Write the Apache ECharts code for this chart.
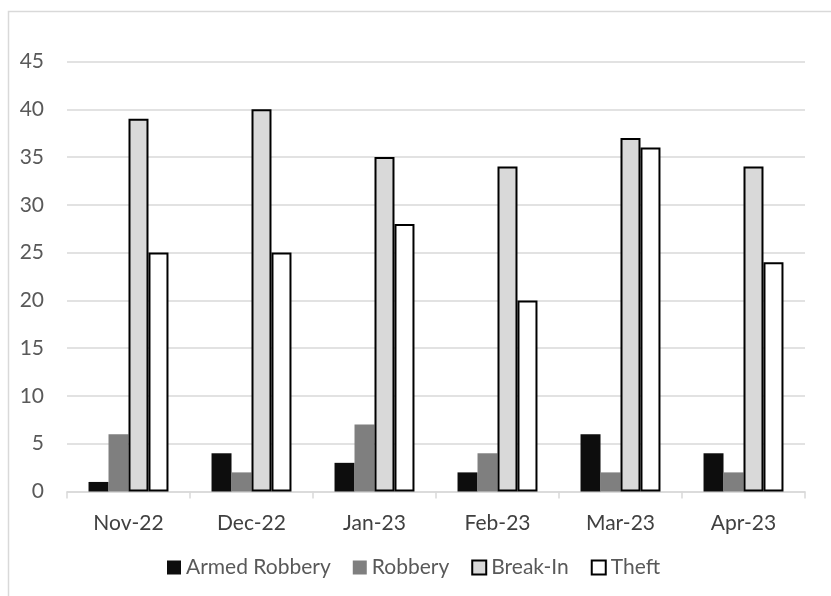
<!DOCTYPE html>
<html><head><meta charset="utf-8">
<script src="https://cdn.jsdelivr.net/npm/echarts@6/dist/echarts.min.js"></script>
<style>html,body{margin:0;padding:0;background:#fff}#c{width:831px;height:596px}</style>
</head><body><div id="c"></div>
<script>
const categories = ['Nov-22','Dec-22','Jan-23','Feb-23','Mar-23','Apr-23'];
const armedRobbery = [1,4,3,2,6,4];
const robbery = [6,2,7,4,2,2];
const breakIn = [39,40,35,34,37,34];
const theft = [25,25,28,20,36,24];
const yTicks = {min:0,max:45,interval:5};

const font = 'Lato';
const chart = echarts.init(document.getElementById('c'));
chart.setOption({
  animation:false,
  backgroundColor:'#fff',
  graphic:[{type:'rect',shape:{x:8.5,y:11.5,width:900,height:700},style:{fill:'none',stroke:'#d9d9d9',lineWidth:1.5}}],
  grid:{left:67,right:26,top:61.5,bottom:104.5},
  legend:{top:557,left:167,padding:0,itemWidth:14,itemHeight:14,itemGap:22,icon:'rect',
    textStyle:{color:'#595959',fontSize:21,fontFamily:font}},
  xAxis:{type:'category',data:categories,
    axisLine:{lineStyle:{color:'#d9d9d9',width:1.5}},
    axisTick:{show:true,length:7,lineStyle:{color:'#d9d9d9',width:1.5}},
    axisLabel:{color:'#404040',fontSize:21,fontFamily:font,margin:21}},
  yAxis:{type:'value',min:yTicks.min,max:yTicks.max,interval:yTicks.interval,
    axisLine:{show:false},axisTick:{show:false},
    axisLabel:{color:'#595959',fontSize:21,fontFamily:font,margin:23},
    splitLine:{lineStyle:{color:'#d9d9d9',width:1.5}}},
  series:[
    {name:'Armed Robbery',type:'bar',data:armedRobbery,barGap:'0%',barCategoryGap:'35%',
      itemStyle:{color:'#0d0d0d'}},
    {name:'Robbery',type:'bar',data:robbery,barGap:'0%',barCategoryGap:'35%',
      itemStyle:{color:'#7f7f7f'}},
    {name:'Break-In',type:'bar',data:breakIn,barGap:'0%',barCategoryGap:'35%',
      itemStyle:{color:'#d9d9d9',borderColor:'#000',borderWidth:2}},
    {name:'Theft',type:'bar',data:theft,barGap:'0%',barCategoryGap:'35%',
      itemStyle:{color:'#fff',borderColor:'#000',borderWidth:2}}
  ]
});
</script></body></html>
